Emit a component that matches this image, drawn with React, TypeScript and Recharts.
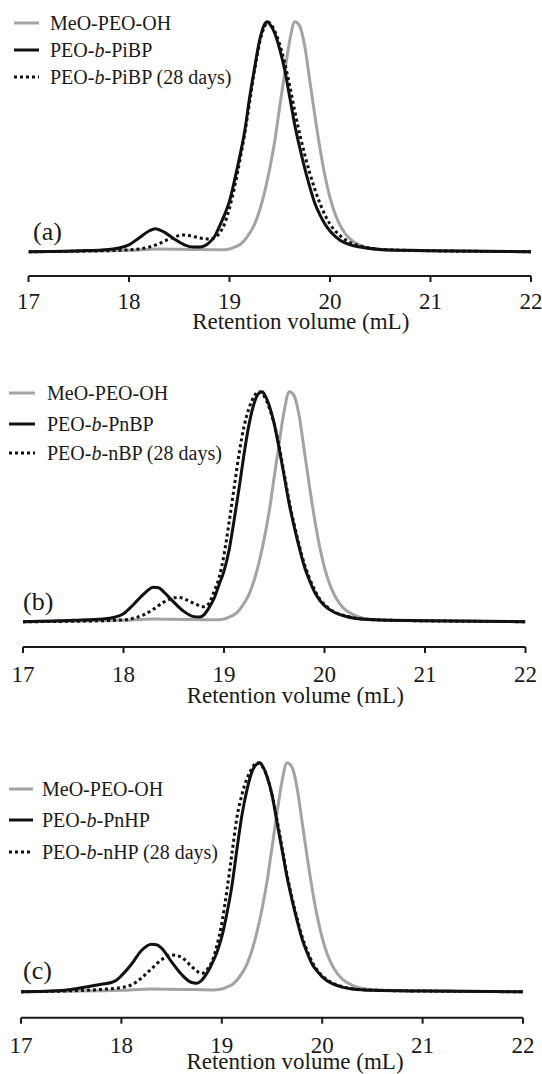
import React from "react";
import { LineChart, Line, XAxis, YAxis, Label } from "recharts";

// ---------- data (retention volume in mL, normalised detector response) ----------
const xTicks = [17, 18, 19, 20, 21, 22];

const meoPeoOh: [number, number][] = [
  [17.0, 0], [17.5, 0.002], [18.0, 0.006], [18.3, 0.012], [18.6, 0.01], [18.9, 0.008],
  [19.0, 0.012], [19.05, 0.02], [19.1, 0.03], [19.15, 0.05], [19.2, 0.08], [19.25, 0.12],
  [19.3, 0.18], [19.35, 0.26], [19.4, 0.36], [19.45, 0.48], [19.5, 0.63], [19.55, 0.78],
  [19.6, 0.92], [19.65, 1.0], [19.7, 0.98], [19.75, 0.89], [19.8, 0.74], [19.85, 0.59],
  [19.9, 0.45], [19.95, 0.33], [20.0, 0.235], [20.05, 0.165], [20.1, 0.115], [20.15, 0.08],
  [20.2, 0.055], [20.3, 0.028], [20.4, 0.014], [20.6, 0.006], [21.0, 0.004], [22.0, 0],
];

const peoPiBP: [number, number][] = [
  [17.0, 0], [17.5, 0.004], [17.8, 0.01], [17.9, 0.016], [18.0, 0.03], [18.1, 0.06],
  [18.2, 0.09], [18.26, 0.1], [18.35, 0.085], [18.45, 0.055], [18.55, 0.03], [18.65, 0.02],
  [18.7, 0.02], [18.75, 0.025], [18.8, 0.04], [18.85, 0.065], [18.9, 0.11], [18.95, 0.16],
  [19.0, 0.22], [19.05, 0.31], [19.1, 0.41], [19.15, 0.52], [19.2, 0.67], [19.25, 0.8],
  [19.3, 0.92], [19.35, 0.99], [19.37, 1.0], [19.4, 0.99], [19.45, 0.95], [19.5, 0.88],
  [19.55, 0.79], [19.6, 0.67], [19.65, 0.55], [19.7, 0.45], [19.75, 0.36], [19.8, 0.28],
  [19.85, 0.21], [19.9, 0.16], [19.95, 0.12], [20.0, 0.09], [20.1, 0.05], [20.2, 0.03],
  [20.3, 0.02], [20.5, 0.01], [20.8, 0.006], [21.0, 0.004], [22.0, 0],
];

const peoPiBP28d: [number, number][] = [
  [17.0, 0], [17.5, 0.002], [18.0, 0.008], [18.1, 0.012], [18.2, 0.02], [18.3, 0.035],
  [18.4, 0.055], [18.5, 0.07], [18.55, 0.073], [18.6, 0.07], [18.7, 0.06], [18.8, 0.055],
  [18.85, 0.06], [18.9, 0.08], [18.95, 0.12], [19.0, 0.19], [19.05, 0.28], [19.1, 0.39],
  [19.15, 0.51], [19.2, 0.65], [19.25, 0.79], [19.3, 0.91], [19.35, 0.98], [19.38, 1.0],
  [19.4, 0.995], [19.45, 0.96], [19.5, 0.9], [19.55, 0.82], [19.6, 0.72], [19.65, 0.61],
  [19.7, 0.51], [19.75, 0.42], [19.8, 0.34], [19.85, 0.27], [19.9, 0.21], [19.95, 0.16],
  [20.0, 0.12], [20.1, 0.07], [20.2, 0.04], [20.3, 0.025], [20.4, 0.015], [20.6, 0.008],
  [21.0, 0.004], [22.0, 0],
];

const peoPnBP: [number, number][] = [
  [17.0, 0], [17.5, 0.006], [17.8, 0.012], [17.9, 0.018], [18.0, 0.035], [18.1, 0.075],
  [18.2, 0.12], [18.3, 0.15], [18.35, 0.148], [18.4, 0.13], [18.5, 0.085], [18.6, 0.045],
  [18.7, 0.022], [18.75, 0.02], [18.8, 0.03], [18.85, 0.06], [18.9, 0.1], [18.95, 0.16],
  [19.0, 0.22], [19.05, 0.31], [19.1, 0.44], [19.15, 0.58], [19.2, 0.73], [19.25, 0.86],
  [19.3, 0.95], [19.35, 0.995], [19.38, 1.0], [19.4, 0.99], [19.45, 0.94], [19.5, 0.86],
  [19.55, 0.75], [19.6, 0.63], [19.65, 0.51], [19.7, 0.41], [19.75, 0.32], [19.8, 0.24],
  [19.85, 0.18], [19.9, 0.13], [19.95, 0.095], [20.0, 0.07], [20.1, 0.04], [20.2, 0.025],
  [20.3, 0.015], [20.5, 0.008], [21.0, 0.004], [22.0, 0],
];

const peoNBP28d: [number, number][] = [
  [17.0, 0], [17.5, 0.002], [18.0, 0.008], [18.1, 0.015], [18.2, 0.03], [18.3, 0.055],
  [18.4, 0.085], [18.5, 0.104], [18.55, 0.106], [18.6, 0.1], [18.7, 0.08], [18.8, 0.065],
  [18.85, 0.08], [18.9, 0.13], [18.95, 0.19], [19.0, 0.29], [19.05, 0.43], [19.1, 0.58],
  [19.15, 0.73], [19.2, 0.85], [19.25, 0.93], [19.3, 0.98], [19.34, 1.0], [19.4, 0.98],
  [19.45, 0.93], [19.5, 0.86], [19.55, 0.76], [19.6, 0.64], [19.65, 0.52], [19.7, 0.42],
  [19.75, 0.33], [19.8, 0.25], [19.85, 0.19], [19.9, 0.14], [19.95, 0.1], [20.0, 0.075],
  [20.1, 0.042], [20.2, 0.026], [20.3, 0.016], [20.5, 0.008], [21.0, 0.004], [22.0, 0],
];

const peoPnHP: [number, number][] = [
  [17.0, 0], [17.3, 0.003], [17.5, 0.01], [17.7, 0.025], [17.8, 0.033], [17.9, 0.04],
  [17.95, 0.05], [18.0, 0.07], [18.1, 0.12], [18.2, 0.18], [18.3, 0.207], [18.35, 0.205],
  [18.4, 0.19], [18.5, 0.13], [18.6, 0.075], [18.7, 0.04], [18.75, 0.037], [18.8, 0.05],
  [18.85, 0.08], [18.9, 0.12], [18.95, 0.17], [19.0, 0.24], [19.05, 0.34], [19.1, 0.46],
  [19.15, 0.62], [19.2, 0.77], [19.25, 0.88], [19.3, 0.96], [19.35, 0.995], [19.38, 1.0],
  [19.4, 0.99], [19.45, 0.94], [19.5, 0.86], [19.55, 0.74], [19.6, 0.62], [19.65, 0.5],
  [19.7, 0.4], [19.75, 0.31], [19.8, 0.23], [19.85, 0.17], [19.9, 0.12], [19.95, 0.09],
  [20.0, 0.065], [20.1, 0.035], [20.2, 0.02], [20.3, 0.012], [20.5, 0.006], [21.0, 0.003],
  [22.0, 0],
];

const peoNHP28d: [number, number][] = [
  [17.0, 0], [17.5, 0.004], [17.8, 0.01], [18.0, 0.018], [18.1, 0.03], [18.2, 0.06],
  [18.3, 0.1], [18.4, 0.14], [18.5, 0.16], [18.55, 0.158], [18.6, 0.15], [18.7, 0.11],
  [18.75, 0.09], [18.8, 0.08], [18.85, 0.095], [18.9, 0.13], [18.95, 0.2], [19.0, 0.3],
  [19.05, 0.44], [19.1, 0.6], [19.15, 0.76], [19.2, 0.86], [19.25, 0.93], [19.3, 0.975],
  [19.345, 1.0], [19.4, 0.985], [19.45, 0.94], [19.5, 0.86], [19.55, 0.75], [19.6, 0.63],
  [19.65, 0.51], [19.7, 0.41], [19.75, 0.32], [19.8, 0.24], [19.85, 0.18], [19.9, 0.13],
  [19.95, 0.095], [20.0, 0.07], [20.1, 0.038], [20.2, 0.022], [20.3, 0.013], [20.5, 0.007],
  [21.0, 0.003], [22.0, 0],
];

const panelTags = ["(a)", "(b)", "(c)"];
const legendA = ["MeO-PEO-OH", "PEO-b-PiBP", "PEO-b-PiBP (28 days)"];
const legendB = ["MeO-PEO-OH", "PEO-b-PnBP", "PEO-b-nBP (28 days)"];
const legendC = ["MeO-PEO-OH", "PEO-b-PnHP", "PEO-b-nHP (28 days)"];
const axisTitle = "Retention volume (mL)";

// ---------- styling ----------
const FONT = "'Liberation Serif', 'Times New Roman', serif";
const INK = "#1a1a1a";
const GRAY = "#a3a3a3";
const BLACK = "#111111";

const toPts = (arr: [number, number][]) => arr.map(([x, y]) => ({ x, y }));

const seriesStyle = [
  { stroke: GRAY, dash: undefined as string | undefined, width: 3 },
  { stroke: BLACK, dash: undefined as string | undefined, width: 3 },
  { stroke: BLACK, dash: "3 3", width: 3 },
];

function renderName(name: string) {
  const parts = name.split("-b-");
  if (parts.length === 1) return name;
  return (
    <>
      {parts[0]}-<tspan fontStyle="italic">b</tspan>-{parts[1]}
    </>
  );
}

type PanelCfg = {
  top: number;
  height: number;
  ml: number;
  mr: number;
  mt: number;
  ymin: number;
  ymax: number;
  tickMargin: number;
  titleBase: number;
  titleDx: number;
  tag: string;
  tagX: number;
  tagBase: number;
  legend: string[];
  legendRows: number[];
  lineX: [number, number];
  textX: number;
  series: [number, number][][];
};

const panels: PanelCfg[] = [
  {
    top: 0, height: 336, ml: 28.5, mr: 11, mt: 11.7, ymin: -0.1057, ymax: 1.0435,
    tickMargin: 11, titleBase: 53, titleDx: 21,
    tag: panelTags[0], tagX: 33, tagBase: 239.6,
    legend: legendA, legendRows: [23, 50, 77], lineX: [14, 39], textX: 50,
    series: [meoPeoOh, peoPiBP, peoPiBP28d],
  },
  {
    top: 360, height: 347, ml: 23, mr: 16.5, mt: 21.7, ymin: -0.11, ymax: 1.0435,
    tickMargin: 13, titleBase: 56, titleDx: 21,
    tag: panelTags[1], tagX: 23, tagBase: 249.6,
    legend: legendB, legendRows: [33, 64, 93], lineX: [9, 35], textX: 47,
    series: [meoPeoOh, peoPnBP, peoNBP28d],
  },
  {
    top: 720, height: 354, ml: 21, mr: 19, mt: 32.7, ymin: -0.1135, ymax: 1.0437,
    tickMargin: 13, titleBase: 51, titleDx: 23,
    tag: panelTags[2], tagX: 23, tagBase: 258.6,
    legend: legendC, legendRows: [69, 100, 132], lineX: [9, 33], textX: 42,
    series: [meoPeoOh, peoPnHP, peoNHP28d],
  },
];

function Panel({ p }: { p: PanelCfg }) {
  const order = [0, 2, 1];
  const axisH = p.height - 276 + (p.top === 0 ? 0 : 0);
  return (
    <div style={{ position: "absolute", left: 0, top: p.top, width: 542, height: p.height }}>
      <LineChart
        width={542}
        height={p.height}
        margin={{ top: p.mt, right: p.mr, left: p.ml, bottom: 0 }}
      >
        <XAxis
          type="number"
          dataKey="x"
          domain={[17, 22]}
          ticks={xTicks}
          allowDataOverflow
          height={p.top === 720 ? 56.3 : 60}
          tickSize={6}
          tickMargin={p.tickMargin}
          axisLine={{ stroke: INK, strokeWidth: 2 }}
          tickLine={{ stroke: INK, strokeWidth: 2 }}
          tick={{ fontSize: 23, fill: INK, fontFamily: FONT }}
          interval={0}
        >
          <Label
            content={(props: any) => {
              const vb = props.viewBox || {};
              return (
                <text
                  x={vb.x + vb.width / 2 + p.titleDx}
                  y={vb.y + p.titleBase}
                  textAnchor="middle"
                  fontSize={23}
                  fontFamily={FONT}
                  fill={INK}
                >
                  {axisTitle}
                </text>
              );
            }}
          />
        </XAxis>
        <YAxis hide type="number" domain={[p.ymin, p.ymax]} allowDataOverflow />
        {order.map((i) => (
          <Line
            key={i}
            data={toPts(p.series[i])}
            dataKey="y"
            type="monotone"
            stroke={seriesStyle[i].stroke}
            strokeWidth={seriesStyle[i].width}
            strokeDasharray={seriesStyle[i].dash}
            dot={false}
            activeDot={false}
            isAnimationActive={false}
          />
        ))}
      </LineChart>
      <svg
        width={542}
        height={p.height}
        style={{ position: "absolute", left: 0, top: 0, pointerEvents: "none" }}
      >
        {p.legend.map((name, i) => (
          <g key={name}>
            <line
              x1={p.lineX[0]}
              x2={p.lineX[1]}
              y1={p.legendRows[i]}
              y2={p.legendRows[i]}
              stroke={seriesStyle[i].stroke}
              strokeWidth={3}
              strokeDasharray={seriesStyle[i].dash}
            />
            <text
              x={p.textX}
              y={p.legendRows[i] + 6.8}
              fontSize={20}
              fontFamily={FONT}
              fill={INK}
            >
              {renderName(name)}
            </text>
          </g>
        ))}
        <text x={p.tagX} y={p.tagBase} fontSize={26} fontFamily={FONT} fill={INK}>
          {p.tag}
        </text>
      </svg>
    </div>
  );
}

export default function App() {
  return (
    <div
      style={{
        position: "absolute",
        left: 0,
        top: 0,
        width: 542,
        height: 1074,
        background: "#ffffff",
        overflow: "hidden",
      }}
    >
      {panels.map((p, i) => (
        <Panel key={i} p={p} />
      ))}
    </div>
  );
}
